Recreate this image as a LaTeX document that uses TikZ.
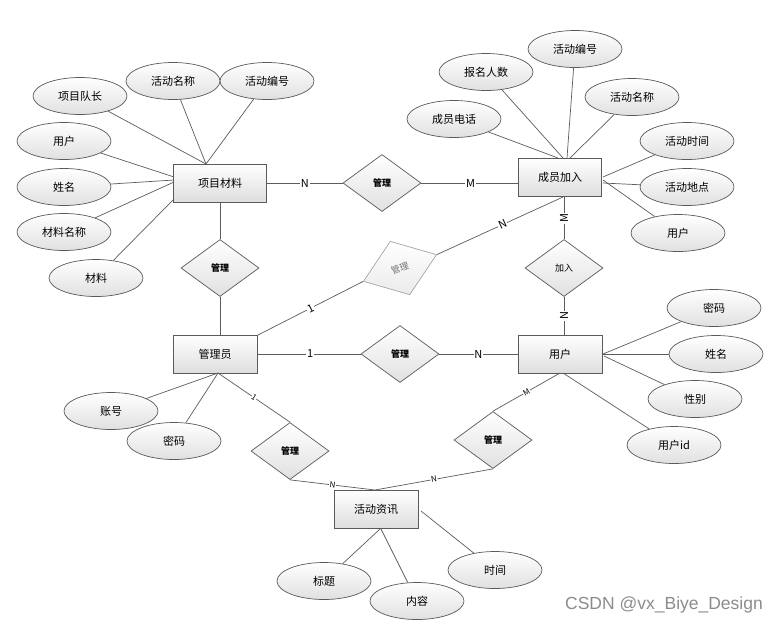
\documentclass[tikz,border=0pt]{standalone}
\usepackage{fontspec}
\setmainfont{Noto Sans CJK SC}
\newfontfamily\wmfont{Liberation Sans}
\usetikzlibrary{shapes.geometric}
\definecolor{bordc}{HTML}{5A5A5A}
\definecolor{linec}{HTML}{5C5C5C}
\tikzset{
  ent/.style={rectangle, draw=bordc, line width=1pt, minimum width=93pt, minimum height=38pt, inner sep=0pt,
    top color=white, bottom color=black!13, font=\fontsize{11}{13}\selectfont},
  attr/.style={ellipse, draw=bordc, line width=0.7pt, minimum width=94pt, minimum height=37pt, inner sep=0pt,
    top color=white, bottom color=black!12, font=\fontsize{11}{13}\selectfont},
  rel/.style={diamond, draw=bordc, line width=0.7pt, minimum width=78pt, minimum height=57pt, inner sep=0pt,
    top color=white, bottom color=black!12, font=\fontsize{9}{10}\selectfont\bfseries},
  conn/.style={draw=linec, line width=0.7pt},
  lab/.style={fill=white, inner sep=0.8pt, font=\fontsize{11}{11}\selectfont},
  slab/.style={fill=white, inner sep=0.5pt, font=\fontsize{8}{8}\selectfont},
}
\begin{document}
\begin{tikzpicture}[x=1pt, y=-1pt]
\useasboundingbox[fill=white] (0,0) rectangle (781,625);

% entities
\node[ent] (pm) at (220,183) {项目材料};
\node[ent, minimum width=83pt] (cy) at (560,177) {成员加入};
\node[ent, minimum width=84pt] (gly) at (215,354) {管理员};
\node[ent, minimum width=84pt] (yh) at (560,354) {用户};
\node[ent, minimum width=84pt] (hz) at (376,509) {活动资讯};

% relationships
\node[rel] (r1) at (382,183) {管理};
\node[rel] (r2) at (220,268) {管理};
\node[rel, rotate=20, draw=black!35, bottom color=black!8, text=black!55, font=\fontsize{9}{10}\selectfont] (r3) at (400,268) {管理};
\node[rel, font=\fontsize{9}{10}\selectfont] (r4) at (564,268) {加入};
\node[rel] (r5) at (400,354) {管理};
\node[rel] (r6) at (290,451) {管理};
\node[rel] (r7) at (493,440) {管理};

% attributes of 项目材料
\node[attr] (a1) at (80,96) {项目队长};
\node[attr] (a2) at (173,81) {活动名称};
\node[attr] (a3) at (267,81) {活动编号};
\node[attr] (a4) at (64,141) {用户};
\node[attr] (a5) at (64,187) {姓名};
\node[attr] (a6) at (64,232) {材料名称};
\node[attr] (a7) at (96,278) {材料};

% attributes of 成员加入
\node[attr] (b1) at (575,49) {活动编号};
\node[attr] (b2) at (486,72) {报名人数};
\node[attr] (b3) at (632,97) {活动名称};
\node[attr] (b4) at (454,119) {成员电话};
\node[attr] (b5) at (687,141) {活动时间};
\node[attr] (b6) at (687,187) {活动地点};
\node[attr] (b7) at (678,233) {用户};

% attributes of 用户
\node[attr] (c1) at (714,308) {密码};
\node[attr] (c2) at (716,354) {姓名};
\node[attr] (c3) at (695,399) {性别};
\node[attr] (c4) at (674,445) {用户id};

% attributes of 管理员
\node[attr] (d1) at (111,411) {账号};
\node[attr] (d2) at (174,441) {密码};

% attributes of 活动资讯
\node[attr] (e1) at (324,581) {标题};
\node[attr] (e2) at (417,601) {内容};
\node[attr] (e3) at (495,570) {时间};

% anchor points
\coordinate (pmT) at (206,164);
\coordinate (pmL1) at (174,177);
\coordinate (pmL2) at (174,180);
\coordinate (pmL3) at (174,182);
\coordinate (pmL4) at (174,199);
\coordinate (cyT1) at (558,158);
\coordinate (cyT2) at (563,158);
\coordinate (cyT3) at (567,158);
\coordinate (cyT4) at (570,158);
\coordinate (cyR1) at (603,177);
\coordinate (cyR2) at (603,183);
\coordinate (cyR3) at (603,180);
\coordinate (cyB) at (563,197);
\coordinate (cyB2) at (564,196);
\coordinate (yhT) at (564,335);
\coordinate (yhR) at (603,354);
\coordinate (yhR2) at (604,356);
\coordinate (yhB) at (563,373);
\coordinate (yhB2) at (560,373);
\coordinate (glyB) at (218,373);
\coordinate (glyTR) at (258,335);
\coordinate (hzT) at (375,490);
\coordinate (hzB1) at (380,529);
\coordinate (hzB2) at (381,529);
\coordinate (hzR) at (421,511);

% attribute lines
\draw[conn] (a1) -- (pmT);
\draw[conn] (a2) -- (pmT);
\draw[conn] (a3) -- (pmT);
\draw[conn] (a4) -- (pmL1);
\draw[conn] (a5) -- (pmL2);
\draw[conn] (a6) -- (pmL3);
\draw[conn] (a7) -- (pmL4);

\draw[conn] (b4) -- (cyT1);
\draw[conn] (b2) -- (cyT2);
\draw[conn] (b1) -- (cyT3);
\draw[conn] (b3) -- (cyT4);
\draw[conn] (b5) -- (cyR1);
\draw[conn] (b6) -- (cyR2);
\draw[conn] (b7) -- (cyR3);

\draw[conn] (c1) -- (yhR);
\draw[conn] (c2) -- (yhR);
\draw[conn] (c3) -- (yhR2);
\draw[conn] (c4) -- (yhB);

\draw[conn] (d1) -- (glyB);
\draw[conn] (d2) -- (glyB);

\draw[conn] (e1) -- (hzB1);
\draw[conn] (e2) -- (hzB2);
\draw[conn] (e3) -- (hzR);

% relationship lines
\draw[conn] (pm.east) -- (r1.west) node[lab, midway] {N};
\draw[conn] (r1.east) -- (r1.east -| cy.west) node[lab, pos=0.51] {M};
\draw[conn] (pm.south) -- (r2.north);
\draw[conn] (r2.south) -- (r2.south |- gly.north);
\draw[conn] (glyTR) -- (r3.west) node[lab, midway, sloped] {1};
\draw[conn] (r3.east) -- (cyB) node[lab, pos=0.52, sloped] {N};
\draw[conn] (cyB2) -- (r4.north) node[lab, pos=0.52, rotate=90] {M};
\draw[conn] (r4.south) -- (yhT) node[lab, midway, rotate=90] {N};
\draw[conn] (gly.east) -- (r5.west) node[lab, pos=0.51] {1};
\draw[conn] (r5.east) -- (yh.west) node[lab, midway] {N};
\draw[conn] (glyB) -- (r6.north) node[slab, midway, sloped] {1};
\draw[conn] (r6.south) -- (hzT) node[slab, midway, sloped] {N};
\draw[conn] (hzT) -- (r7.south) node[slab, midway, sloped] {N};
\draw[conn] (r7.north) -- (yhB2) node[slab, midway, sloped] {M};

% watermark
\node[text=black!45, font=\wmfont\fontsize{17.5}{19}\selectfont] (wm) at (664,605) {CSDN @vx\_Biye\_Design};
\end{tikzpicture}
\end{document}
